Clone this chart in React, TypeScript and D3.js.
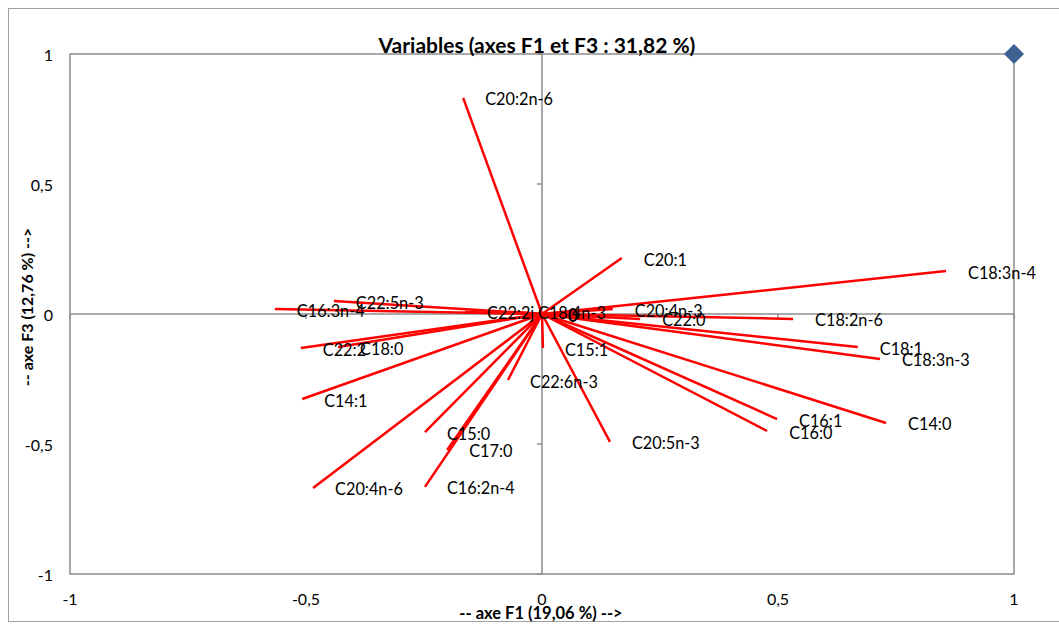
import React from "react";
import * as d3 from "d3";

const variables = [
  "C20:2n-6", "C20:1", "C18:3n-4", "C20:4n-3", "C22:0", "C18:2n-6", "C18:1", "C18:3n-3",
  "C14:0", "C16:1", "C16:0", "C20:5n-3", "C15:1", "C22:6n-3", "C15:0", "C17:0",
  "C16:2n-4", "C20:4n-6", "C14:1", "C22:2", "C18:0", "C16:3n-4", "C22:5n-3", "C22:2j",
  "C18:4n-3", "0",
];
const f1 = [
  -0.167, 0.169, 0.856, 0.150, 0.208, 0.532, 0.669, 0.716,
  0.729, 0.498, 0.477, 0.144, 0.002, -0.072, -0.248, -0.201,
  -0.248, -0.485, -0.508, -0.511, -0.432, -0.566, -0.441, -0.163,
  -0.055, 0.008,
];
const f3 = [
  0.831, 0.215, 0.165, 0.019, -0.019, -0.019, -0.127, -0.173,
  -0.419, -0.404, -0.450, -0.492, -0.131, -0.254, -0.454, -0.523,
  -0.665, -0.669, -0.327, -0.131, -0.127, 0.019, 0.050, 0.008,
  0.008, 0.0,
];
const xTicks = [-1, -0.5, 0, 0.5, 1];
const yTicks = [-1, -0.5, 0, 0.5, 1];
const markerX = [1];
const markerY = [1];
const title = "Variables (axes F1 et F3 : 31,82 %)";
const xTitle = "-- axe F1 (19,06 %) -->";
const yTitle = "-- axe F3 (12,76 %) -->";

const W = 1059;
const H = 628;
const FONT = "Lato, 'Open Sans', sans-serif";

export default function App() {
  const x = d3.scaleLinear().domain([-1, 1]).range([70, 1014]);
  const y = d3.scaleLinear().domain([-1, 1]).range([574, 54]);
  const fmt = (v: number) => String(v).replace(".", ",");
  const grey = "#8c8c8c";
  const x0 = x(0);
  const y0 = y(0);
  const dp = d3.path();
  const r = 10;
  dp.moveTo(0, -r);
  dp.lineTo(r, 0);
  dp.lineTo(0, r);
  dp.lineTo(-r, 0);
  dp.closePath();
  const diamond = dp.toString();

  return (
    <svg
      width={W}
      height={H}
      style={{ position: "absolute", left: 0, top: 0, background: "#fff" }}
    >
      <rect x={8.5} y={8.5} width={1070} height={613} fill="#fff" stroke="#a0a0a0" strokeWidth={1} />
      <rect x={x(-1)} y={y(1)} width={x(1) - x(-1)} height={y(-1) - y(1)} fill="none" stroke={grey} strokeWidth={1.5} />
      <line x1={x(-1)} x2={x(1)} y1={y0} y2={y0} stroke={grey} strokeWidth={1.5} />
      <line x1={x0} x2={x0} y1={y(1)} y2={y(-1)} stroke={grey} strokeWidth={1.5} />
      {xTicks.map((t) => (
        <line key={"xt" + t} x1={x(t)} x2={x(t)} y1={y0} y2={y0 + 5} stroke={grey} strokeWidth={1.5} />
      ))}
      {yTicks.map((t) => (
        <line key={"yt" + t} x1={x0 - 5} x2={x0} y1={y(t)} y2={y(t)} stroke={grey} strokeWidth={1.5} />
      ))}
      {xTicks.map((t) => (
        <text key={"xl" + t} x={x(t)} y={598} textAnchor="middle" dominantBaseline="central" fontFamily={FONT} fontSize={16} fill="#000">
          {fmt(t)}
        </text>
      ))}
      {yTicks.map((t) => (
        <text key={"yl" + t} x={53} y={y(t)} textAnchor="end" dominantBaseline="central" fontFamily={FONT} fontSize={16} fill="#000">
          {fmt(t)}
        </text>
      ))}
      {variables.map((v, i) => (
        <line key={"v" + i} x1={x0} y1={y0} x2={x(f1[i])} y2={y(f3[i])} stroke="#ff0000" strokeWidth={2.5} />
      ))}
      {variables.map((v, i) => (
        <text
          key={"lab" + i}
          x={x(f1[i]) + 22}
          y={y(f3[i]) + 1}
          dominantBaseline="central"
          fontFamily={FONT}
          fontSize={v === "0" ? 18 : 16.3}
          fontWeight={v === "0" ? 700 : 400}
          fill="#000"
        >
          {v}
        </text>
      ))}
      {markerX.map((mx, i) => (
        <path key={"m" + i} d={diamond} transform={`translate(${x(mx)},${y(markerY[i])})`} fill="#3c6294" />
      ))}
      <text x={537} y={44} textAnchor="middle" dominantBaseline="central" fontFamily={FONT} fontSize={21} fontWeight={700} fill="#000">
        {title}
      </text>
      <text x={541} y={613} textAnchor="middle" dominantBaseline="central" fontFamily={FONT} fontSize={16.5} fontWeight={700} fill="#000">
        {xTitle}
      </text>
      <text
        transform={`translate(26,307) rotate(-90)`}
        textAnchor="middle"
        dominantBaseline="central"
        fontFamily={FONT}
        fontSize={16}
        fontWeight={700}
        fill="#000"
      >
        {yTitle}
      </text>
    </svg>
  );
}
